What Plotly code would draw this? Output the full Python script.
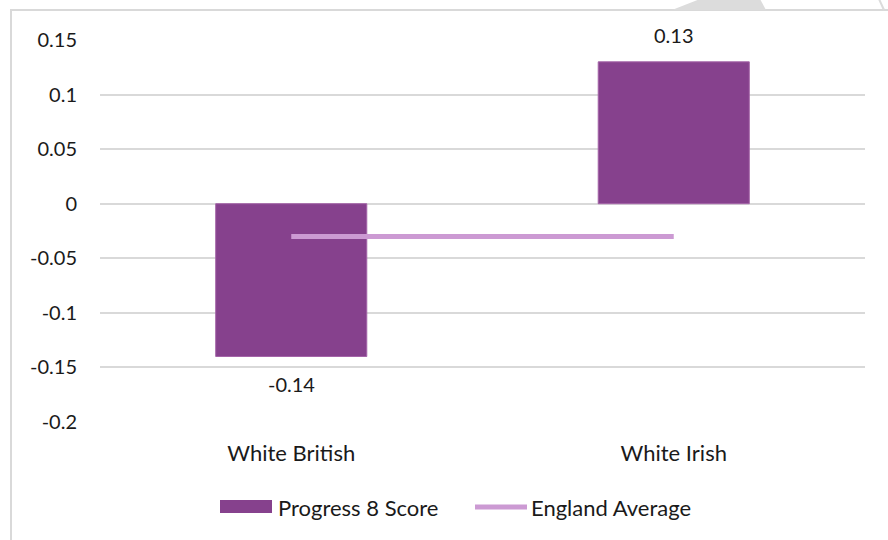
import plotly.graph_objects as go

# Data
categories = ["White British", "White Irish"]
progress8 = [-0.14, 0.13]
england_avg = [-0.03, -0.03]
tick_vals = [-0.2, -0.15, -0.1, -0.05, 0, 0.05, 0.1, 0.15]
tick_text = ["-0.2", "-0.15", "-0.1", "-0.05", "0", "0.05", "0.1", "0.15"]

BAR = "#86418D"
LINE = "#CC9AD3"
GRID = "#D9D9D9"
FONT = "Lato"
TXT = "#1a1a1a"
NUM_SIZE = 20
WORD_SIZE = 22

fig = go.Figure()
fig.add_trace(go.Bar(
    x=categories, y=progress8, name="Progress 8 Score",
    marker=dict(color=BAR, line=dict(color="#A464A8", width=1)),
    width=0.395, showlegend=False,
))
fig.add_trace(go.Scatter(
    x=categories, y=england_avg, name="England Average", mode="lines",
    line=dict(color=LINE, width=5), showlegend=False,
))

L, R, T, B = 100, 23, 40, 118
W, H = 888, 540


def px(x):
    return (x - L) / (W - L - R)


def py(y):
    return (H - B - y) / (H - T - B)


shapes = [
    # outer chart frame
    dict(type="rect", xref="paper", yref="paper",
         x0=px(11), x1=px(905), y0=py(560), y1=py(10),
         line=dict(color="#D9D9D9", width=2), fillcolor="rgba(0,0,0,0)", layer="below"),
    # page watermark fragments above the frame
    dict(type="path", xref="paper", yref="paper",
         path=f"M {px(672)},{py(10)} L {px(700)},{py(-1)} L {px(760)},{py(-1)} L {px(766)},{py(10)} Z",
         line=dict(width=0), fillcolor="#DCDCDC"),
    dict(type="line", xref="paper", yref="paper",
         x0=px(879), y0=py(-1), x1=px(884), y1=py(10),
         line=dict(color="#DCDCDC", width=2)),
    # legend swatches
    dict(type="rect", xref="paper", yref="paper",
         x0=px(220), x1=px(272), y0=py(513), y1=py(500),
         line=dict(width=0), fillcolor=BAR),
    dict(type="line", xref="paper", yref="paper",
         x0=px(475), x1=px(527), y0=py(507), y1=py(507),
         line=dict(color=LINE, width=5)),
]

annotations = [
    dict(text="Progress 8 Score", xref="paper", yref="paper", x=px(276), y=py(507),
         xanchor="left", yanchor="middle", showarrow=False,
         font=dict(family=FONT, size=WORD_SIZE, color=TXT)),
    dict(text="England Average", xref="paper", yref="paper", x=px(529), y=py(507),
         xanchor="left", yanchor="middle", showarrow=False,
         font=dict(family=FONT, size=WORD_SIZE, color=TXT)),
]

# value labels placed beyond the end of each bar
for cat, val in zip(categories, progress8):
    annotations.append(dict(
        text=f"{val:.2f}", x=cat, y=val, xref="x", yref="y",
        yanchor="middle", yshift=27 if val >= 0 else -27, showarrow=False,
        font=dict(family=FONT, size=NUM_SIZE, color=TXT)))

fig.update_layout(
    width=W, height=H,
    margin=dict(l=L, r=R, t=T, b=B),
    paper_bgcolor="white", plot_bgcolor="white",
    font=dict(family=FONT, size=NUM_SIZE, color=TXT),
    shapes=shapes, annotations=annotations,
    xaxis=dict(showgrid=False, showline=False, ticks="", zeroline=False,
               tickfont=dict(family=FONT, size=WORD_SIZE, color=TXT), ticklabelstandoff=16),
    yaxis=dict(range=[-0.2, 0.15], tickvals=tick_vals, ticktext=tick_text,
               showgrid=True, gridcolor=GRID, gridwidth=1.5, zeroline=False,
               showline=False, ticks="", ticklabelstandoff=22,
               tickfont=dict(family=FONT, size=NUM_SIZE, color=TXT)),
    bargap=0.605,
)

fig.write_html("out.html")
